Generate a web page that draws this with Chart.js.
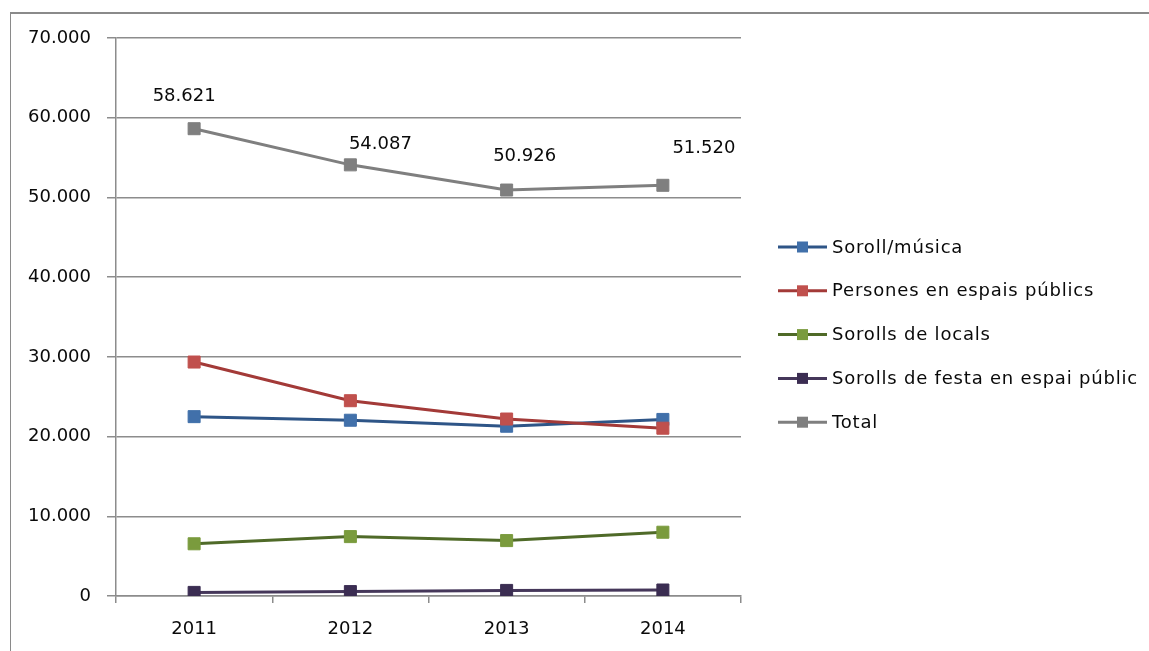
<!DOCTYPE html>
<html>
<head>
<meta charset="utf-8">
<script src="https://cdn.jsdelivr.net/npm/chart.js@4.4.1/dist/chart.umd.min.js"></script>
<style>
  html, body { margin: 0; padding: 0; background: #fff; overflow: hidden }
  #wrap { position: relative; width: 1149px; height: 651px }
  #frame { position: absolute; left: 10px; top: 12px; width: 1200px; height: 700px;
           border-left: 1.5px solid #8a8a8a; border-top: 2px solid #8a8a8a }
  canvas { position: absolute; left: 0; top: 0 }
</style>
</head>
<body>
<div id="wrap">
  <div id="frame"></div>
  <canvas id="chart" width="1149" height="651"></canvas>
</div>
<script>
// ── Dades ───────────────────────────────────────────────────────────────
const years = ['2011', '2012', '2013', '2014']
const sorollMusica = [22500, 22050, 21300, 22150]
const persones = [29350, 24500, 22200, 21050]
const sorollsLocals = [6550, 7450, 6950, 8000]
const sorollsFesta = [450, 550, 700, 750]
const total = [58621, 54087, 50926, 51520]
const seriesNames = [
  'Soroll/música',
  'Persones en espais públics',
  'Sorolls de locals',
  'Sorolls de festa en espai públic',
  'Total'
]
const yMax = 70000
const yStep = 10000

// ── Estil ───────────────────────────────────────────────────────────────
const lineColors = ['#2E5587', '#A33A38', '#4F6A28', '#45375A', '#7F7F7F']
const markerColors = ['#4170AA', '#C0504D', '#7A9B3D', '#3B2D52', '#7F7F7F']
const gridColor = '#8c8c8c'
const textColor = '#0a0a0a'
const FONT = '"DejaVu Sans", sans-serif'

// posició manual de les etiquetes del total (com a l'Excel)
const totalLabelShift = [[-10, -32], [30, -21], [18, -34], [41, -37]]

function fmtNum (v) {
  return String(v).replace(/\B(?=(\d{3})+(?!\d))/g, '.')
}

const seriesData = [sorollMusica, persones, sorollsLocals, sorollsFesta, total]

const datasets = seriesData.map((data, i) => ({
  label: seriesNames[i],
  data,
  borderColor: lineColors[i],
  backgroundColor: markerColors[i],
  borderWidth: 3,
  pointStyle: 'rect',
  pointRadius: 8.5,
  pointBorderWidth: 1,
  pointBackgroundColor: markerColors[i],
  pointBorderColor: markerColors[i],
  tension: 0,
  order: seriesData.length - i
}))

// ── Plugins ─────────────────────────────────────────────────────────────
const totalLabels = {
  id: 'totalLabels',
  afterDatasetsDraw (chart) {
    const ctx = chart.ctx
    const meta = chart.getDatasetMeta(4)
    ctx.save()
    ctx.font = '18px ' + FONT
    ctx.fillStyle = textColor
    ctx.textAlign = 'center'
    ctx.textBaseline = 'middle'
    meta.data.forEach((pt, i) => {
      const [dx, dy] = totalLabelShift[i]
      ctx.fillText(fmtNum(total[i]), pt.x + dx, pt.y + dy)
    })
    ctx.restore()
  }
}

const sideLegend = {
  id: 'sideLegend',
  afterDraw (chart) {
    const ctx = chart.ctx
    const x0 = 778, x1 = 827, y0 = 247, gap = 43.8
    ctx.save()
    ctx.font = '18px ' + FONT
    ctx.textBaseline = 'middle'
    ctx.letterSpacing = '0.8px'
    chart.data.datasets.forEach((ds, i) => {
      const y = y0 + i * gap
      ctx.strokeStyle = ds.borderColor
      ctx.lineWidth = 3
      ctx.beginPath(); ctx.moveTo(x0, y); ctx.lineTo(x1, y); ctx.stroke()
      ctx.fillStyle = ds.pointBackgroundColor
      ctx.fillRect((x0 + x1) / 2 - 5.5, y - 5.5, 11, 11)
      ctx.fillStyle = textColor
      ctx.fillText(ds.label, 832, y + 1)
    })
    ctx.restore()
  }
}

// ── Gràfic ──────────────────────────────────────────────────────────────
new Chart(document.getElementById('chart'), {
  type: 'line',
  data: { labels: years, datasets },
  options: {
    responsive: false,
    animation: false,
    devicePixelRatio: 1,
    layout: { padding: { top: 38, right: 408, left: 0, bottom: 0 } },
    plugins: { legend: { display: false }, tooltip: { enabled: false } },
    scales: {
      x: {
        offset: true,
        grid: { offset: true, drawOnChartArea: false, drawTicks: true, tickLength: 7, color: gridColor, lineWidth: 1.5 },
        border: { color: gridColor, width: 1.5 },
        ticks: { color: textColor, font: { family: FONT, size: 18 }, padding: 16, maxRotation: 0 },
        afterFit: s => { s.height = 55 }
      },
      y: {
        min: 0,
        max: yMax,
        grid: { color: gridColor, lineWidth: 1.5, tickLength: 9 },
        border: { color: gridColor, width: 1.5 },
        ticks: { stepSize: yStep, color: textColor, font: { family: FONT, size: 18 }, padding: 16, callback: v => fmtNum(v) },
        afterFit: s => { s.width = 116 }
      }
    }
  },
  plugins: [totalLabels, sideLegend]
})
</script>
</body>
</html>
